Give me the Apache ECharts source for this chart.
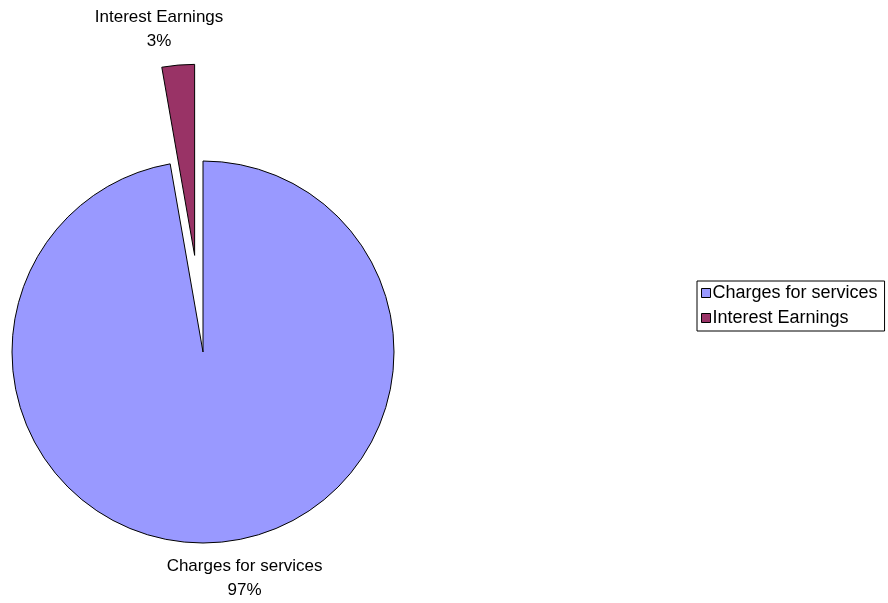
<!DOCTYPE html>
<html>
<head>
<meta charset="utf-8">
<script src="https://cdn.jsdelivr.net/npm/echarts@6/dist/echarts.min.js"></script>
<style>
  html, body { margin: 0; padding: 0; background: #ffffff; }
  #chart { width: 888px; height: 603px; }
</style>
</head>
<body>
<div id="chart"></div>
<script>
// Revenue sources
const categories = ['Charges for services', 'Interest Earnings'];
const shares = [97.25, 2.75];
const colors = ['#9999FF', '#993366'];
// horizontal run of each (hidden) label leader
const leaderRuns = [17, 11];

const chart = echarts.init(document.getElementById('chart'), null, { renderer: 'canvas' });

const pieData = categories.map((name, i) => ({
  name: name,
  value: shares[i],
  selected: i === 1,
  itemStyle: { color: colors[i] },
  labelLine: { show: false, length: 36, length2: leaderRuns[i] }
}));

chart.setOption({
  animation: false,
  backgroundColor: '#ffffff',
  textStyle: { fontFamily: 'Liberation Sans, Arial, sans-serif' },
  legend: {
    orient: 'vertical',
    left: 697,
    top: 281,
    padding: [3, 7, 4, 4],
    itemGap: 7,
    itemWidth: 9,
    itemHeight: 9,
    icon: 'rect',
    borderColor: '#000000',
    borderWidth: 1,
    selectedMode: false,
    itemStyle: { borderColor: '#000000', borderWidth: 1 },
    textStyle: { fontSize: 18, color: '#000000', padding: [0, 0, 0, -3] },
    data: categories
  },
  series: [{
    type: 'pie',
    center: [203, 352],
    radius: 191,
    startAngle: 90,
    clockwise: true,
    selectedMode: 'single',
    selectedOffset: 97,
    avoidLabelOverlap: false,
    percentPrecision: 0,
    emphasis: { disabled: true },
    itemStyle: { borderColor: '#000000', borderWidth: 1 },
    label: {
      show: true,
      position: 'outside',
      formatter: '{b}\n{d}%',
      fontSize: 17,
      lineHeight: 24,
      color: '#000000'
    },
    labelLine: { show: false, length: 36, length2: 13 },
    labelLayout: { align: 'center' },
    data: pieData
  }]
});
</script>
</body>
</html>
